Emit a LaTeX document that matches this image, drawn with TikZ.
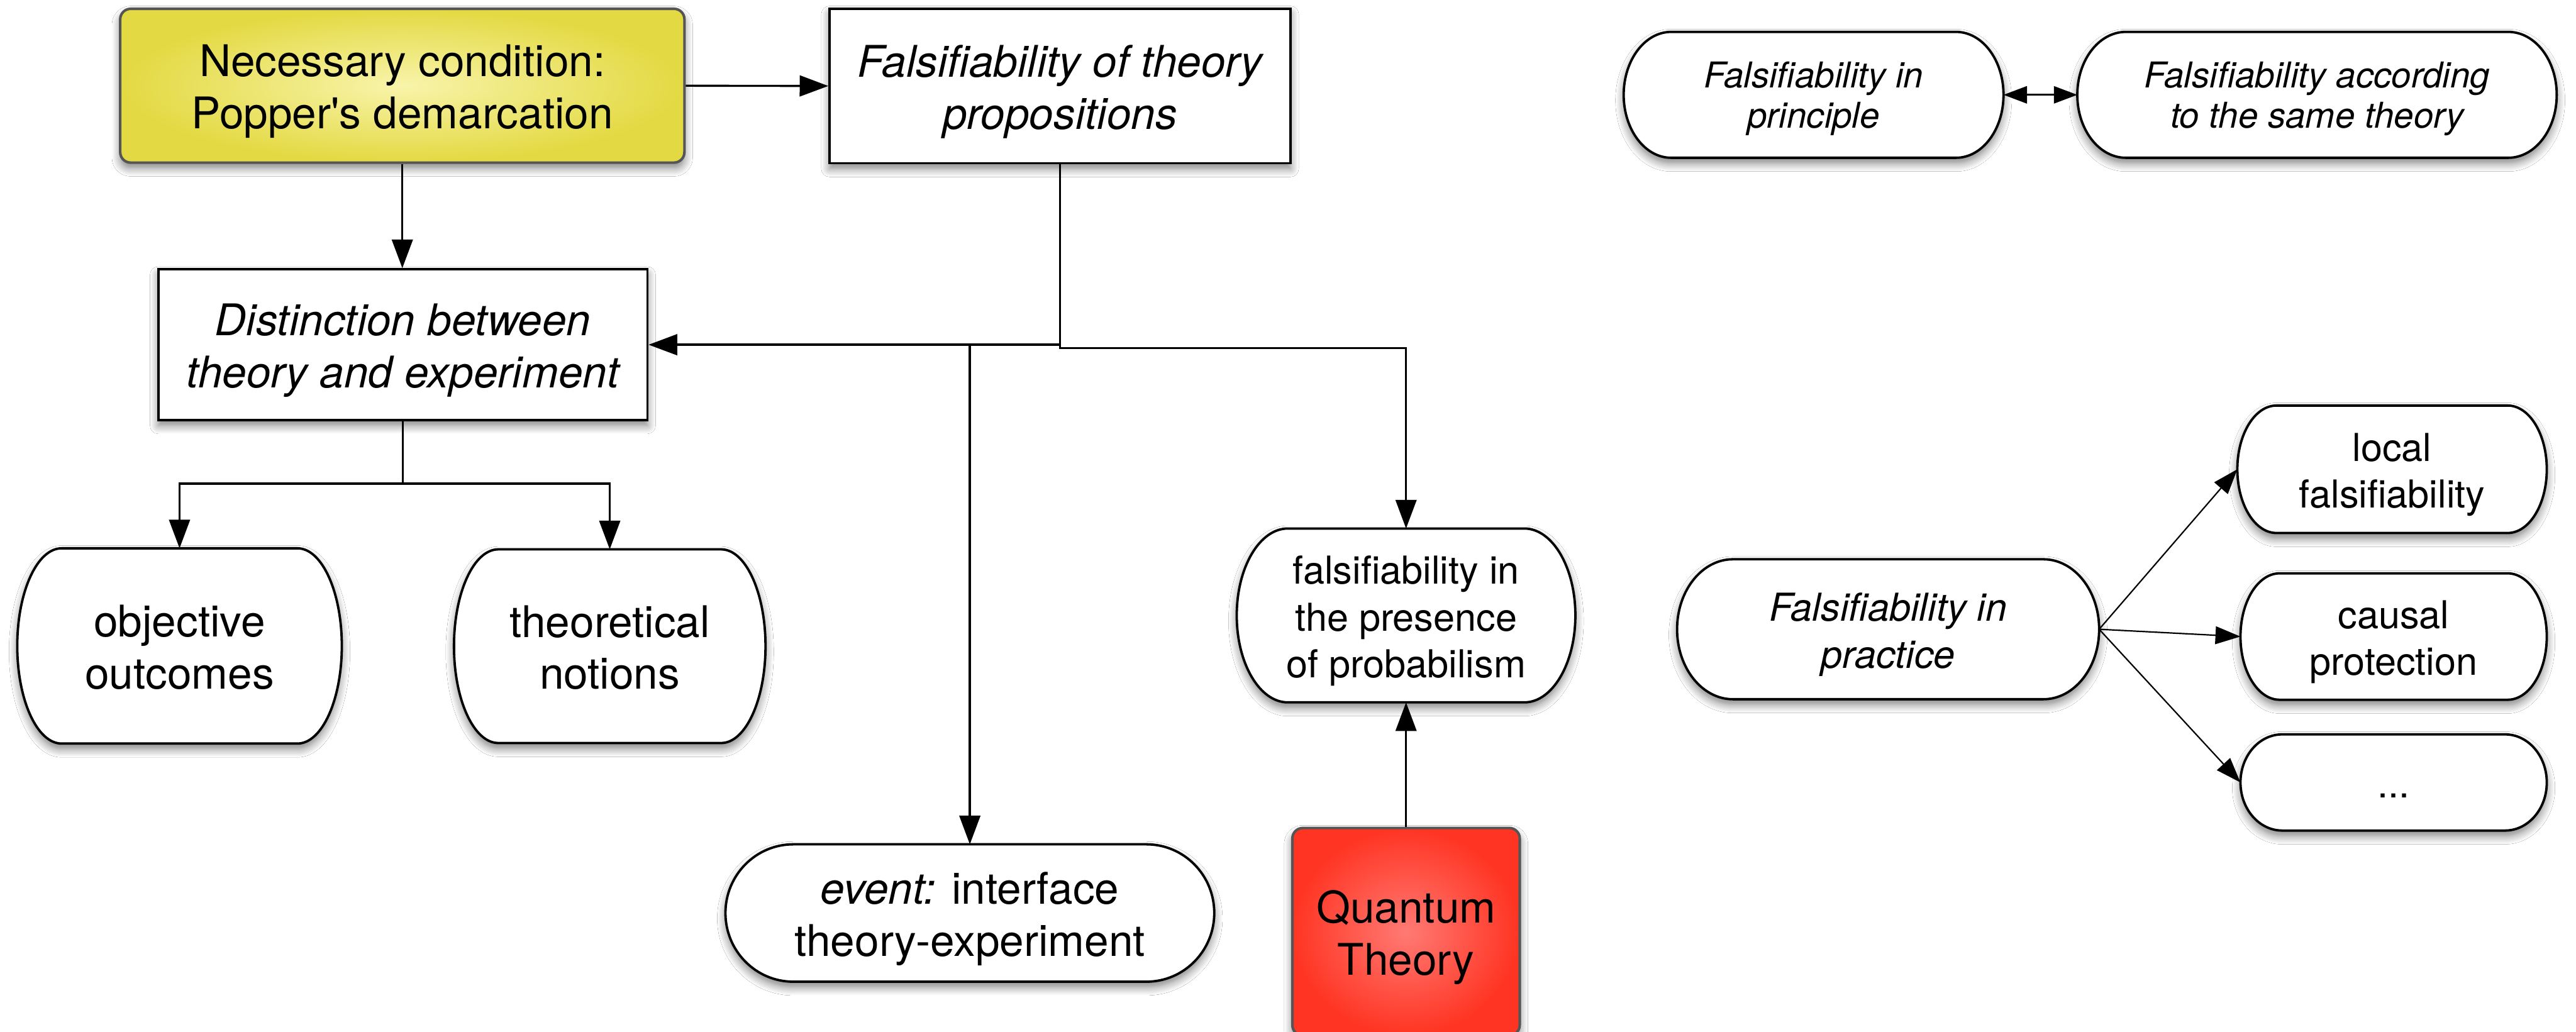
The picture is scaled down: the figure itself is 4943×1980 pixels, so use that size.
\documentclass[tikz,border=0pt]{standalone}
\usepackage{fontspec}
\setmainfont{TeX Gyre Heros}[Ligatures=TeXOff]
\usetikzlibrary{arrows.meta,calc,backgrounds,shadows.blur}

\definecolor{yellowin}{HTML}{F8F4AA}
\definecolor{yellowout}{HTML}{E3D942}
\definecolor{redin}{HTML}{FF7A74}
\definecolor{redout}{HTML}{FF3422}
\definecolor{framegray}{HTML}{555555}

\newcommand\bigfont{\fontsize{23.8pt}{28.45pt}\selectfont}
\newcommand\midfont{\fontsize{21pt}{25.6pt}\selectfont}
\newcommand\smallfont{\fontsize{19.4pt}{22.2pt}\selectfont}

% struts giving every line block the same ascent (first line) and descent (last line)
\newcommand\bigA{\rule{0pt}{0.85cm}}
\newcommand\bigD{\rule[-0.2cm]{0pt}{0.2cm}}
\newcommand\midA{\rule{0pt}{0.77cm}}
\newcommand\midD{\rule[-0.18cm]{0pt}{0.18cm}}
\newcommand\smallA{\rule{0pt}{0.66cm}}
\newcommand\smallD{\rule[-0.16cm]{0pt}{0.16cm}}

\tikzset{
  soft shadow/.style={blur shadow={shadow xshift=0pt, shadow yshift=-3pt,
      shadow blur radius=4.5pt, shadow blur steps=8, shadow opacity=50}},
  textbox/.style={inner sep=0pt, align=center, font=\bigfont},
  plainbox/.style={textbox, draw=black, line width=1.3pt, fill=white, soft shadow},
  colorbox/.style={textbox, draw=framegray, line width=1.4pt, rounded corners=0.2cm, soft shadow},
  pilltext/.style={inner sep=0pt, align=center},
  pill/.style={draw=black, line width=1.3pt, fill=white, soft shadow},
  conn/.style={line width=1.15pt, -{Triangle[length=0.55cm,width=0.4cm]}},
  thinconn/.style={line width=0.75pt, -{Triangle[length=0.48cm,width=0.34cm]}},
  twoway/.style={line width=0.9pt, {Triangle[length=0.45cm,width=0.33cm]}-{Triangle[length=0.45cm,width=0.33cm]}},
}

% outline with flat top and bottom and elliptic ends, fitted to a node's box
\newcommand\pillpath[2]{%
  \path[pill] let \p1=(#1.north west), \p2=(#1.south east), \n1={0.5*(\y1-\y2)} in
    (\x1+#2,\y1) -- (\x2-#2,\y1)
    arc[start angle=90, end angle=-90, x radius=#2, y radius=\n1]
    -- (\x1+#2,\y2)
    arc[start angle=270, end angle=90, x radius=#2, y radius=\n1] -- cycle;}

\begin{document}
\begin{tikzpicture}[x=0.01cm, y=-0.01cm]
\useasboundingbox (0,0) rectangle (4943,1980);

% rectangular boxes
\node[colorbox, shading=radial, inner color=yellowin, outer color=yellowout,
      minimum width=10.82cm, minimum height=2.95cm] (nec) at (772,164.5)
      {\bigA Necessary condition:\\Popper's demarcation\bigD};
\node[plainbox, font=\bigfont\itshape, minimum width=8.84cm, minimum height=2.96cm]
      (fal) at (2034,165) {\bigA Falsifiability of theory\\propositions\bigD};
\node[plainbox, font=\bigfont\itshape, minimum width=9.38cm, minimum height=2.89cm]
      (dist) at (773,661.5) {\bigA Distinction between\\theory and experiment\bigD};
\node[colorbox, shading=radial, inner color=redin, outer color=redout,
      minimum width=4.36cm, minimum height=3.98cm] (quant) at (2698,1788)
      {\bigA Quantum\\Theory\bigD};

% texts of the rounded nodes
\node[pilltext, font=\bigfont, minimum width=6.21cm, minimum height=3.73cm]
      (obj) at (344.5,1239.5) {\bigA objective\\outcomes\bigD};
\node[pilltext, font=\bigfont, minimum width=5.96cm, minimum height=3.70cm]
      (theo) at (1170,1240) {\bigA theoretical\\notions\bigD};
\node[pilltext, font=\bigfont, minimum width=9.36cm, minimum height=2.62cm]
      (event) at (1861,1752) {\bigA\textit{event:} interface\\theory-experiment\bigD};
\node[pilltext, font=\midfont, minimum width=6.48cm, minimum height=3.32cm]
      (prob) at (2698,1181) {\midA falsifiability in\\the presence\\of probabilism\midD};
\node[pilltext, font=\smallfont\itshape, minimum width=7.27cm, minimum height=2.40cm]
      (princ) at (3480,182) {\smallA Falsifiability in\\principle\smallD};
\node[pilltext, font=\smallfont\itshape, minimum width=9.18cm, minimum height=2.40cm]
      (same) at (4446,182) {\smallA Falsifiability according\\to the same theory\smallD};
\node[pilltext, font=\midfont\itshape, minimum width=8.08cm, minimum height=2.67cm]
      (prac) at (3623,1207.5) {\midA Falsifiability in\\practice\midD};
\node[pilltext, font=\midfont, minimum width=5.92cm, minimum height=2.43cm]
      (local) at (4590,900.5) {\midA local\\falsifiability\midD};
\node[pilltext, font=\midfont, minimum width=5.86cm, minimum height=2.41cm]
      (causal) at (4593,1221.5) {\midA causal\\protection\midD};
\node[pilltext, font=\midfont, minimum width=5.86cm, minimum height=1.83cm]
      (dots) at (4593,1501.5) {\midA...\midD};

% outlines of the rounded nodes, under their texts
\begin{scope}[on background layer]
  \fill[white] (0,0) rectangle (4943,1980);
  \pillpath{obj}{0.85cm}
  \pillpath{theo}{0.85cm}
  \pillpath{event}{1.3cm}
  \pillpath{prob}{0.98cm}
  \pillpath{princ}{0.91cm}
  \pillpath{same}{0.93cm}
  \pillpath{prac}{1.07cm}
  \pillpath{local}{0.75cm}
  \pillpath{causal}{0.75cm}
  \pillpath{dots}{0.8cm}
\end{scope}

% connectors
\coordinate (rowprob) at (0,668);
\coordinate (rowsplit) at (0,928);
\coordinate (split) at (dist.south |- rowsplit);
\coordinate (probbend) at (fal.south |- rowprob);
\coordinate (eventbend) at (event.north |- dist.east);

\draw[conn] (nec.east) -- (fal.west);
\draw[conn] (nec.south) -- (nec.south |- dist.north);
\draw[conn] (fal.south) |- (dist.east);
\draw[conn] (fal.south) |- (eventbend) -- (event.north);
\draw[conn] (fal.south) -- (probbend) -| (prob.north);
\draw[conn] (quant.north) -- (prob.south);
\draw[line width=1.15pt] (dist.south) -- (split);
\draw[conn] (split) -| (obj.north);
\draw[conn] (split) -| (theo.north);

\draw[twoway] (princ.east) -- (same.west);
\draw[thinconn] (prac.east) -- (local.west);
\draw[thinconn] (prac.east) -- (causal.west);
\draw[thinconn] (prac.east) -- (dots.west);
\end{tikzpicture}
\end{document}
